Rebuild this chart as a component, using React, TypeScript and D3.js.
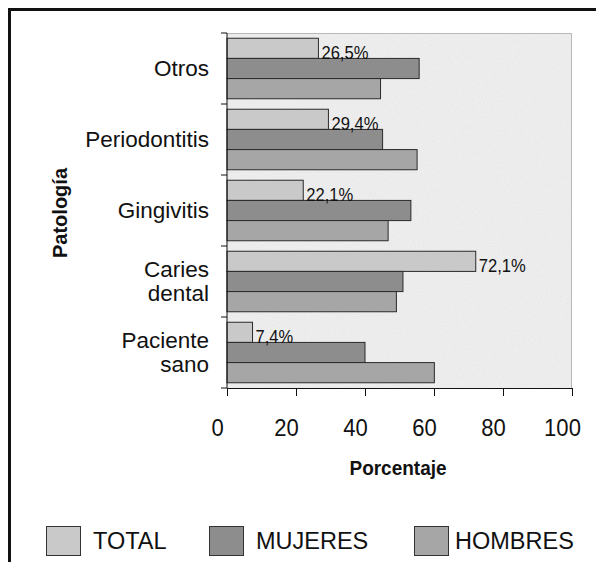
import React, { useRef, useEffect } from 'react';
import * as d3 from 'd3';

const categories = ['Otros', 'Periodontitis', 'Gingivitis', 'Caries dental', 'Paciente sano'];
const categoryLines = [['Otros'], ['Periodontitis'], ['Gingivitis'], ['Caries', 'dental'], ['Paciente', 'sano']];
const seriesNames = ['TOTAL', 'MUJERES', 'HOMBRES'];
const total = [26.5, 29.4, 22.1, 72.1, 7.4];
const mujeres = [55.7, 45.1, 53.3, 51.0, 40.0];
const hombres = [44.5, 55.1, 46.7, 49.1, 60.1];
const totalLabels = ['26,5%', '29,4%', '22,1%', '72,1%', '7,4%'];
const xTicks = [0, 20, 40, 60, 80, 100];
const colors = ['#c9c9c9', '#8d8d8d', '#a6a6a6'];

const font = '"Liberation Sans", Arial, sans-serif';

const App = () => {
  const ref = useRef<SVGSVGElement>(null);

  useEffect(() => {
    const svg = d3.select(ref.current);
    svg.selectAll('*').remove();

    const left = 227, right = 572, top = 33, bottom = 388;

    const defs = svg.append('defs');
    const f = defs.append('filter').attr('id', 'noise').attr('x', 0).attr('y', 0).attr('width', 1).attr('height', 1);
    f.append('feTurbulence').attr('type', 'fractalNoise').attr('baseFrequency', 0.9).attr('numOctaves', 2).attr('seed', 3);
    f.append('feColorMatrix').attr('type', 'saturate').attr('values', 0);

    // outer frame
    svg.append('rect')
      .attr('x', 9.5).attr('y', 9.5).attr('width', 700).attr('height', 700)
      .attr('fill', 'none').attr('stroke', '#111').attr('stroke-width', 3);

    const x = d3.scaleLinear().domain([0, 100]).range([left, right]);
    const y = d3.scaleBand().domain(categories).range([top, bottom]).paddingInner(0).paddingOuter(0);
    const inner = d3.scaleBand().domain(seriesNames).range([0, y.bandwidth()]).paddingOuter(0.26).paddingInner(0);

    // plot area
    svg.append('rect')
      .attr('x', left).attr('y', top).attr('width', right - left).attr('height', bottom - top)
      .attr('fill', '#f0f0f0');
    svg.append('rect')
      .attr('x', left).attr('y', top).attr('width', right - left).attr('height', bottom - top)
      .attr('filter', 'url(#noise)').attr('opacity', 0.15);
    svg.append('path')
      .attr('d', `M${left},${top + 0.5}H${right - 0.5}V${bottom}`)
      .attr('fill', 'none').attr('stroke', '#b8b8b8').attr('stroke-width', 1);

    const series = [total, mujeres, hombres];
    series.forEach((vals, si) => {
      svg.append('g')
        .selectAll('rect')
        .data(vals)
        .join('rect')
        .attr('x', x(0))
        .attr('y', (d, i) => y(categories[i])! + inner(seriesNames[si])!)
        .attr('width', (d) => x(d) - x(0))
        .attr('height', inner.bandwidth())
        .attr('fill', colors[si])
        .attr('stroke', '#2a2a2a')
        .attr('stroke-width', 1);
    });

    svg.append('g')
      .selectAll('text')
      .data(total)
      .join('text')
      .attr('x', (d) => x(d) + 3)
      .attr('y', (d, i) => y(categories[i])! + inner('TOTAL')! + inner.bandwidth() + 1)
      .attr('font-family', font)
      .attr('font-size', 19)
      .attr('textLength', (d, i) => totalLabels[i].length * 9.4)
      .attr('lengthAdjust', 'spacingAndGlyphs')
      .attr('fill', '#111')
      .text((d, i) => totalLabels[i]);

    // y axis
    const yAxis = svg.append('g');
    yAxis.append('line').attr('x1', left).attr('x2', left).attr('y1', top).attr('y2', bottom).attr('stroke', '#111');
    yAxis.selectAll('line.t')
      .data([...categories.map((c) => y(c)!), bottom])
      .join('line')
      .attr('class', 't')
      .attr('x1', left - 6).attr('x2', left).attr('y1', (d) => d).attr('y2', (d) => d)
      .attr('stroke', '#111');

    categories.forEach((c, i) => {
      const lines = categoryLines[i];
      const cy = y(c)! + y.bandwidth() / 2;
      const lh = 24;
      lines.forEach((ln, j) => {
        svg.append('text')
          .attr('x', 209)
          .attr('y', cy + (j - (lines.length - 1) / 2) * lh + 7.5)
          .attr('text-anchor', 'end')
          .attr('font-family', font)
          .attr('font-size', 22.5)
          .attr('fill', '#111')
          .text(ln);
      });
    });

    // x axis
    const xAxis = d3.axisBottom(x).tickValues(xTicks).tickSize(8).tickPadding(10).tickSizeOuter(0);
    const xg = svg.append('g').attr('transform', `translate(0,${bottom})`).call(xAxis);
    xg.select('.domain').attr('stroke', '#111');
    xg.selectAll('.tick line').attr('stroke', '#111');
    xg.selectAll('.tick text')
      .attr('font-family', font)
      .attr('font-size', 21)
      .attr('fill', '#111')
      .attr('dy', 0)
      .attr('x', -10)
      .attr('y', 48)
      .attr('transform', 'scale(1.05,1.12)')
      .attr('transform-origin', '-10 48');

    svg.append('text')
      .attr('x', 398).attr('y', 475)
      .attr('text-anchor', 'middle')
      .attr('font-family', font)
      .attr('font-weight', 'bold')
      .attr('font-size', 20)
      .attr('textLength', 97)
      .attr('lengthAdjust', 'spacingAndGlyphs')
      .attr('fill', '#111')
      .text('Porcentaje');

    svg.append('text')
      .attr('transform', 'translate(67,213) rotate(-90)')
      .attr('text-anchor', 'middle')
      .attr('font-family', font)
      .attr('font-weight', 'bold')
      .attr('font-size', 20)
      .attr('fill', '#111')
      .text('Patología');

    // legend
    const legendX = [46, 209, 414];
    const textX = [47, 47, 41];
    const lg = svg.append('g')
      .selectAll('g')
      .data(seriesNames)
      .join('g')
      .attr('transform', (d, i) => `translate(${legendX[i]},526)`);
    lg.append('rect')
      .attr('x', 0.5).attr('y', 0.5).attr('width', 34).attr('height', 29)
      .attr('fill', (d, i) => colors[i])
      .attr('stroke', '#333');
    lg.append('text')
      .attr('x', (d, i) => textX[i])
      .attr('y', 23)
      .attr('font-family', font)
      .attr('font-size', 23.5)
      .attr('fill', '#111')
      .text((d) => d);
  }, []);

  return (
    <svg
      ref={ref}
      width={596}
      height={562}
      style={{ position: 'absolute', left: 0, top: 0, background: '#fff' }}
    />
  );
};

export default App;
